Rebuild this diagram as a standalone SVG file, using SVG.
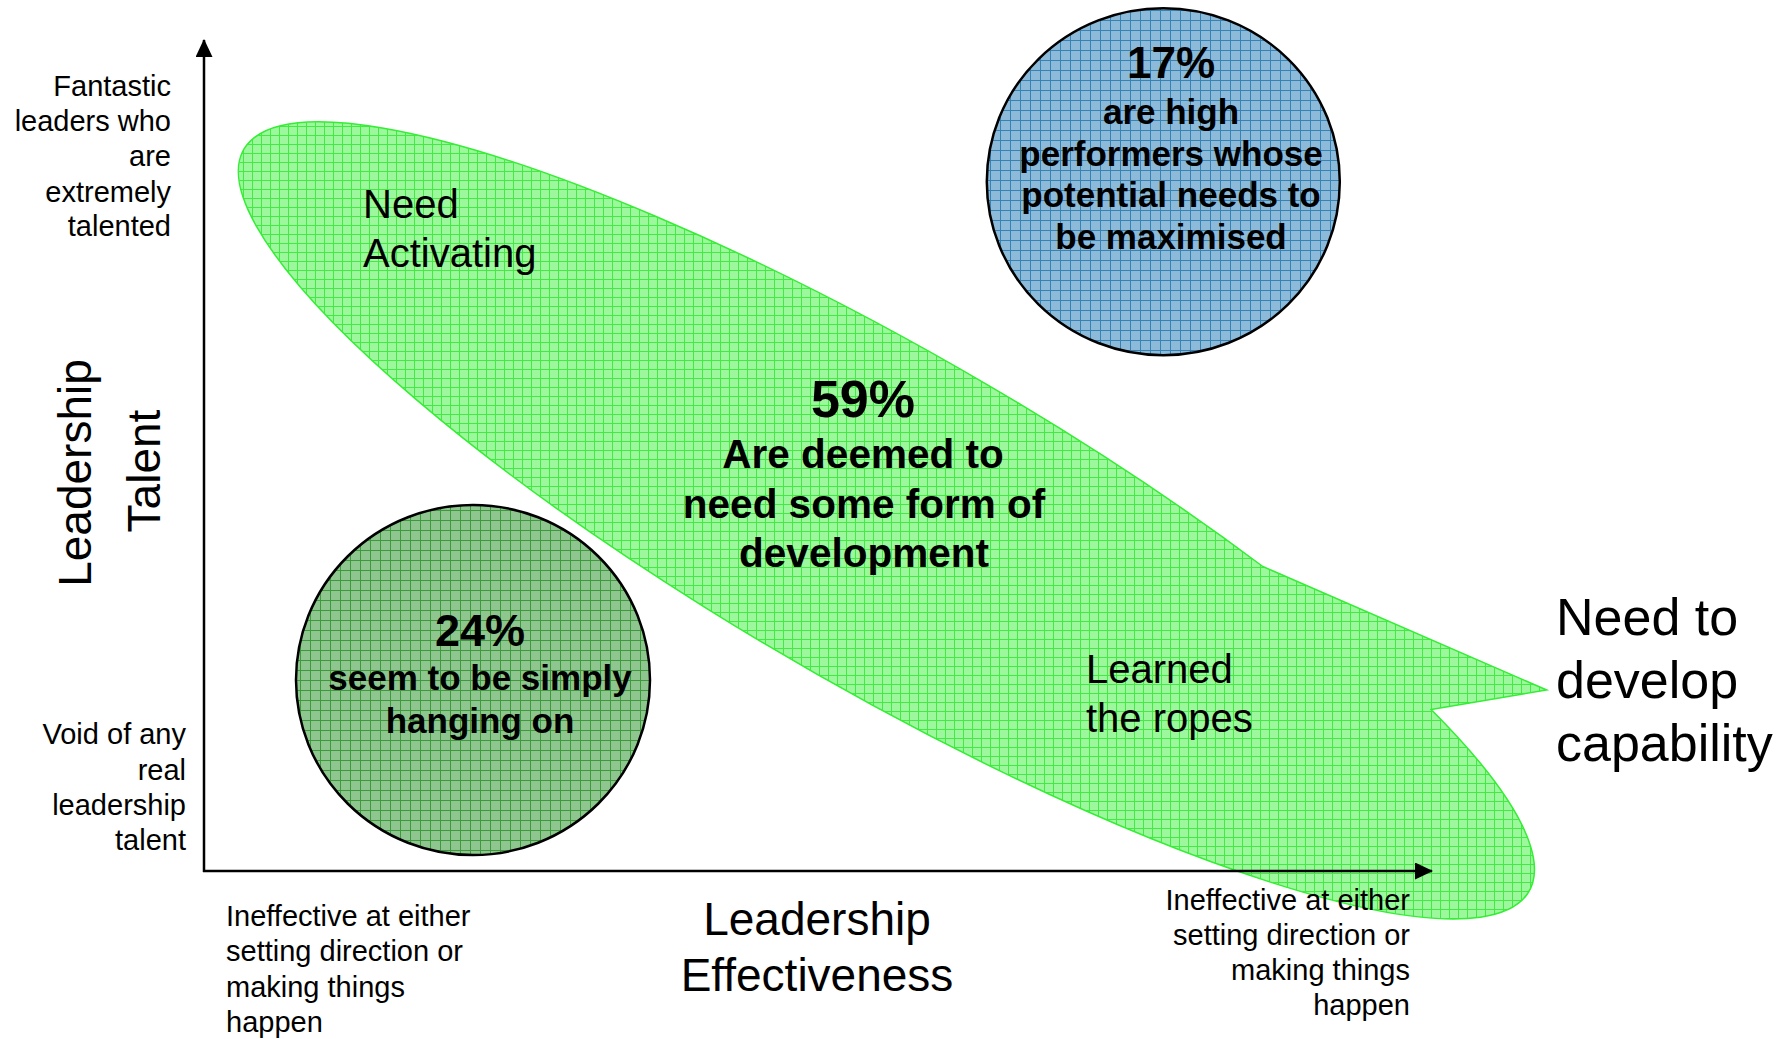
<svg xmlns="http://www.w3.org/2000/svg" width="1787" height="1039" viewBox="0 0 1787 1039">
<style>
text{font-family:"Liberation Sans",Arial,sans-serif;fill:#000}
.lbl{font-size:29px}
.big{font-size:46px}
.zone{font-size:40px}
.b{font-weight:bold}
.axis{stroke:#000;stroke-width:2.5;fill:none}
</style>
<defs>
<pattern id="pg" width="9" height="9" patternUnits="userSpaceOnUse">
<rect width="9" height="9" fill="#9df89d"/>
<path d="M0 0.5H9M0.5 0V9" stroke="#44ea44" stroke-width="1"/>
</pattern>
<pattern id="pb" width="10" height="10" patternUnits="userSpaceOnUse">
<rect width="10" height="10" fill="#8dbad8"/>
<path d="M0 0.5H10M0.5 0V10" stroke="#3582b5" stroke-width="1"/>
</pattern>
<pattern id="pd" width="10" height="10" patternUnits="userSpaceOnUse">
<rect width="10" height="10" fill="#8fc68f"/>
<path d="M0 0.5H10M0.5 0V10" stroke="#3c9a3c" stroke-width="1"/>
</pattern>
<marker id="arr" viewBox="0 0 18 17" markerWidth="18" markerHeight="17" refX="17" refY="8.5" orient="auto" markerUnits="userSpaceOnUse">
<path d="M0 0L18 8.5L0 17z" fill="#000"/>
</marker>
</defs>
<rect width="1787" height="1039" fill="#fff"/>

<g id="develop-zone">
<path d="M1262.8 566.5L1546.7 690L1431.1 709.5A742 168 30 1 1 1262.8 566.5Z" fill="url(#pg)" stroke="#33ee33" stroke-width="1.5"/>
<text class="zone" x="363" y="218">Need</text>
<text class="zone" x="363" y="267">Activating</text>
<text class="b" x="863" y="417" font-size="52" text-anchor="middle">59%</text>
<text class="b" x="863" y="468" font-size="40.5" text-anchor="middle">Are deemed to</text>
<text class="b" x="864" y="518" font-size="40.5" text-anchor="middle">need some form of</text>
<text class="b" x="864" y="567" font-size="40.5" text-anchor="middle">development</text>
<text class="zone" x="1086" y="683">Learned</text>
<text class="zone" x="1086" y="732">the ropes</text>
</g>

<g id="high-performers">
<ellipse cx="1163.3" cy="181.7" rx="176.5" ry="173.5" fill="url(#pb)" stroke="#000" stroke-width="2.5"/>
<text class="b" x="1171" y="78" font-size="44" text-anchor="middle">17%</text>
<text class="b" x="1171" y="124" font-size="35" text-anchor="middle">are high</text>
<text class="b" x="1171" y="166" font-size="35" text-anchor="middle">performers whose</text>
<text class="b" x="1171" y="207" font-size="35" text-anchor="middle">potential needs to</text>
<text class="b" x="1171" y="249" font-size="35" text-anchor="middle">be maximised</text>
</g>

<g id="hanging-on">
<ellipse cx="473" cy="680" rx="177" ry="175" fill="url(#pd)" stroke="#000" stroke-width="2.5"/>
<text class="b" x="480" y="646" font-size="45" text-anchor="middle">24%</text>
<text class="b" x="480" y="690" font-size="35" text-anchor="middle">seem to be simply</text>
<text class="b" x="480" y="733" font-size="35" text-anchor="middle">hanging on</text>
</g>

<g id="connectors">
<line class="axis" x1="204" y1="872" x2="204" y2="40" marker-end="url(#arr)"/>
<line class="axis" x1="203" y1="871" x2="1432" y2="871" marker-end="url(#arr)"/>
</g>

<g id="y-axis-labels">
<text class="lbl" x="171" y="96" text-anchor="end">Fantastic</text>
<text class="lbl" x="171" y="131" text-anchor="end">leaders who</text>
<text class="lbl" x="171" y="166" text-anchor="end">are</text>
<text class="lbl" x="171" y="202" text-anchor="end">extremely</text>
<text class="lbl" x="171" y="236" text-anchor="end">talented</text>
<text class="lbl" x="186" y="744" text-anchor="end">Void of any</text>
<text class="lbl" x="186" y="780" text-anchor="end">real</text>
<text class="lbl" x="186" y="815" text-anchor="end">leadership</text>
<text class="lbl" x="186" y="850" text-anchor="end">talent</text>
<text class="big" transform="translate(91,473) rotate(-90)" text-anchor="middle">Leadership</text>
<text class="big" transform="translate(160,471) rotate(-90)" text-anchor="middle">Talent</text>
</g>

<g id="x-axis-labels">
<text class="lbl" x="226" y="926">Ineffective at either</text>
<text class="lbl" x="226" y="961">setting direction or</text>
<text class="lbl" x="226" y="997">making things</text>
<text class="lbl" x="226" y="1032">happen</text>
<text class="lbl" x="1410" y="910" text-anchor="end">Ineffective at either</text>
<text class="lbl" x="1410" y="945" text-anchor="end">setting direction or</text>
<text class="lbl" x="1410" y="980" text-anchor="end">making things</text>
<text class="lbl" x="1410" y="1015" text-anchor="end">happen</text>
<text class="big" x="817" y="935" text-anchor="middle">Leadership</text>
<text class="big" x="817" y="991" text-anchor="middle">Effectiveness</text>
</g>

<g id="need-to-develop">
<text x="1556" y="635" font-size="52">Need to</text>
<text x="1556" y="698" font-size="52">develop</text>
<text x="1556" y="761" font-size="52">capability</text>
</g>
</svg>
